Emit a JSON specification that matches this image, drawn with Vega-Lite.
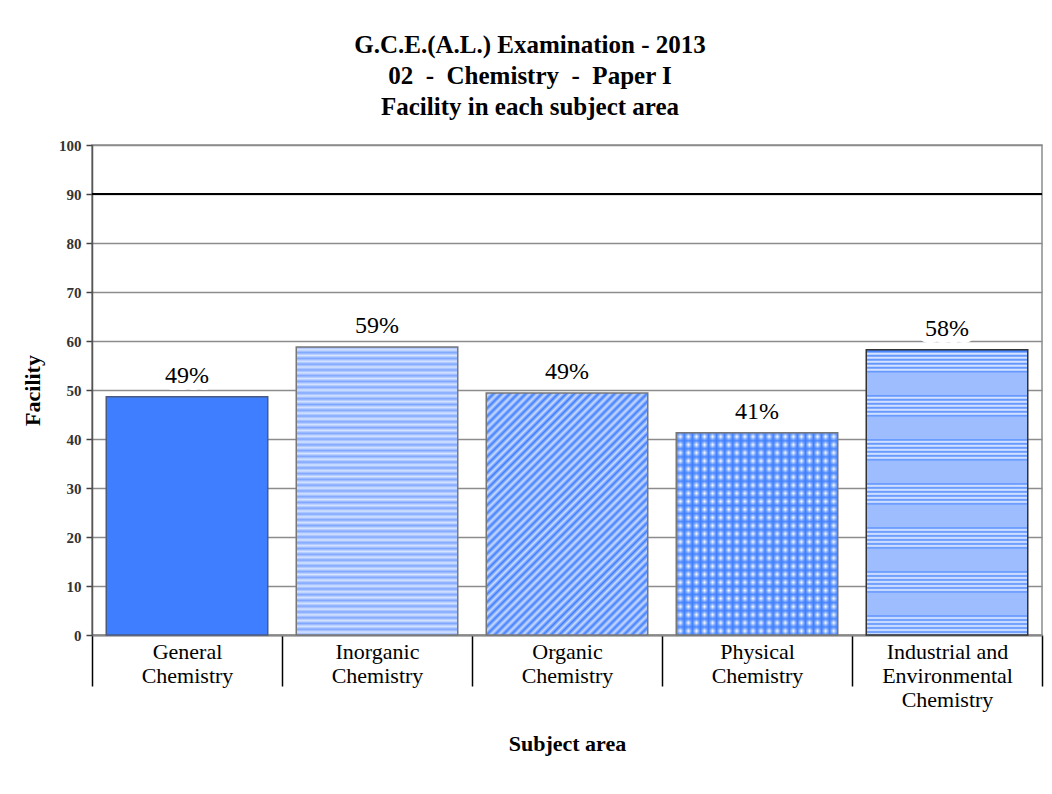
{
  "$schema": "https://vega.github.io/schema/vega-lite/v6.json",
  "width": 950,
  "height": 490,
  "autosize": {"type": "none"},
  "padding": {"left": 92, "top": 145, "right": 10, "bottom": 159},
  "background": "white",
  "config": {"view": {"stroke": "#8c8c8c", "strokeWidth": 1.5}, "font": "Liberation Serif", "mark": {"font": "Liberation Serif"}, "text": {"font": "Liberation Serif"}},
  "title": {
    "text": ["G.C.E.(A.L.) Examination - 2013", "02 \u00a0-\u00a0 Chemistry \u00a0-\u00a0 Paper I", "Facility in each subject area"],
    "font": "Liberation Serif", "fontSize": 25, "fontWeight": "bold", "color": "black",
    "lineHeight": 31, "anchor": "middle", "frame": "group", "dx": -37, "offset": 18
  },
  "data": {"values": [
    {"area": "General Chemistry", "facility": 48.6, "label": "49%"},
    {"area": "Inorganic Chemistry", "facility": 58.8, "label": "59%"},
    {"area": "Organic Chemistry", "facility": 49.4, "label": "49%"},
    {"area": "Physical Chemistry", "facility": 41.3, "label": "41%"},
    {"area": "Industrial and Environmental Chemistry", "facility": 58.2, "label": "58%"}
  ]},
  "layer": [
    {
      "encoding": {
        "x": {
          "field": "area", "type": "nominal",
          "sort": ["General Chemistry", "Inorganic Chemistry", "Organic Chemistry", "Physical Chemistry", "Industrial and Environmental Chemistry"],
          "scale": {"paddingInner": 0, "paddingOuter": 0},
          "axis": {
            "title": "Subject area", "titleFont": "Liberation Serif", "titleFontSize": 22, "titleFontWeight": "bold",
            "titleColor": "black", "titleY": 115, "titleBaseline": "alphabetic",
            "labelAngle": 0, "labelFont": "Liberation Serif", "labelFontSize": 22, "labelColor": "black",
            "labelLineHeight": 24, "labelBaseline": "top", "labelPadding": -45, "labelLimit": 0, "labelOverlap": false,
            "labelExpr": "!isValid(datum.value) ? '' : datum.value == 'Industrial and Environmental Chemistry' ? ['Industrial and', 'Environmental', 'Chemistry'] : split(datum.value, ' ')",
            "tickBand": "extent", "tickSize": 51, "tickColor": "black", "tickWidth": 1.5,
            "domainColor": "#888888", "domainWidth": 2, "grid": false
          }
        },
        "y": {
          "field": "facility", "type": "quantitative",
          "scale": {"domain": [0, 100], "nice": false},
          "axis": {
            "title": "Facility", "titleFont": "Liberation Serif", "titleFontSize": 22, "titleFontWeight": "bold",
            "titleColor": "black", "titlePadding": 14,
            "values": [0, 10, 20, 30, 40, 50, 60, 70, 80, 90, 100],
            "labelFont": "Liberation Serif", "labelFontWeight": "bold", "labelFontSize": 15, "labelColor": "#333333",
            "labelPadding": 5, "tickSize": 6, "tickColor": "#444444", "tickWidth": 1.5,
            "domainColor": "#555555", "domainWidth": 1.5, "gridColor": "#8c8c8c", "gridWidth": 1.5
          }
        }
      },
      "layer": [
        {
          "transform": [{"filter": "datum.area === 'General Chemistry'"}],
          "mark": {"type": "bar", "width": {"band": 0.85}, "fill": "#3f7fff", "stroke": "#4a5a80", "strokeWidth": 1.5}
        },
        {
          "transform": [{"filter": "datum.area === 'Inorganic Chemistry'"}],
          "mark": {"type": "bar", "width": {"band": 0.85}, "stroke": "#777777", "strokeWidth": 1.5, "fill": {"gradient": "linear", "x1": 0, "y1": 0, "x2": 0, "y2": 1, "stops": [
            {"offset": 0, "color": "#7fa6ff"}, {"offset": 0.01, "color": "#d6e4ff"}, {"offset": 0.02, "color": "#7fa6ff"}, {"offset": 0.03, "color": "#d6e4ff"}, {"offset": 0.04, "color": "#7fa6ff"}, {"offset": 0.05, "color": "#d6e4ff"}, {"offset": 0.06, "color": "#7fa6ff"}, {"offset": 0.07, "color": "#d6e4ff"}, {"offset": 0.08, "color": "#7fa6ff"}, {"offset": 0.09, "color": "#d6e4ff"},
            {"offset": 0.10, "color": "#7fa6ff"}, {"offset": 0.11, "color": "#d6e4ff"}, {"offset": 0.12, "color": "#7fa6ff"}, {"offset": 0.13, "color": "#d6e4ff"}, {"offset": 0.14, "color": "#7fa6ff"}, {"offset": 0.15, "color": "#d6e4ff"}, {"offset": 0.16, "color": "#7fa6ff"}, {"offset": 0.17, "color": "#d6e4ff"}, {"offset": 0.18, "color": "#7fa6ff"}, {"offset": 0.19, "color": "#d6e4ff"},
            {"offset": 0.20, "color": "#7fa6ff"}, {"offset": 0.21, "color": "#d6e4ff"}, {"offset": 0.22, "color": "#7fa6ff"}, {"offset": 0.23, "color": "#d6e4ff"}, {"offset": 0.24, "color": "#7fa6ff"}, {"offset": 0.25, "color": "#d6e4ff"}, {"offset": 0.26, "color": "#7fa6ff"}, {"offset": 0.27, "color": "#d6e4ff"}, {"offset": 0.28, "color": "#7fa6ff"}, {"offset": 0.29, "color": "#d6e4ff"},
            {"offset": 0.30, "color": "#7fa6ff"}, {"offset": 0.31, "color": "#d6e4ff"}, {"offset": 0.32, "color": "#7fa6ff"}, {"offset": 0.33, "color": "#d6e4ff"}, {"offset": 0.34, "color": "#7fa6ff"}, {"offset": 0.35, "color": "#d6e4ff"}, {"offset": 0.36, "color": "#7fa6ff"}, {"offset": 0.37, "color": "#d6e4ff"}, {"offset": 0.38, "color": "#7fa6ff"}, {"offset": 0.39, "color": "#d6e4ff"},
            {"offset": 0.40, "color": "#7fa6ff"}, {"offset": 0.41, "color": "#d6e4ff"}, {"offset": 0.42, "color": "#7fa6ff"}, {"offset": 0.43, "color": "#d6e4ff"}, {"offset": 0.44, "color": "#7fa6ff"}, {"offset": 0.45, "color": "#d6e4ff"}, {"offset": 0.46, "color": "#7fa6ff"}, {"offset": 0.47, "color": "#d6e4ff"}, {"offset": 0.48, "color": "#7fa6ff"}, {"offset": 0.49, "color": "#d6e4ff"},
            {"offset": 0.50, "color": "#7fa6ff"}, {"offset": 0.51, "color": "#d6e4ff"}, {"offset": 0.52, "color": "#7fa6ff"}, {"offset": 0.53, "color": "#d6e4ff"}, {"offset": 0.54, "color": "#7fa6ff"}, {"offset": 0.55, "color": "#d6e4ff"}, {"offset": 0.56, "color": "#7fa6ff"}, {"offset": 0.57, "color": "#d6e4ff"}, {"offset": 0.58, "color": "#7fa6ff"}, {"offset": 0.59, "color": "#d6e4ff"},
            {"offset": 0.60, "color": "#7fa6ff"}, {"offset": 0.61, "color": "#d6e4ff"}, {"offset": 0.62, "color": "#7fa6ff"}, {"offset": 0.63, "color": "#d6e4ff"}, {"offset": 0.64, "color": "#7fa6ff"}, {"offset": 0.65, "color": "#d6e4ff"}, {"offset": 0.66, "color": "#7fa6ff"}, {"offset": 0.67, "color": "#d6e4ff"}, {"offset": 0.68, "color": "#7fa6ff"}, {"offset": 0.69, "color": "#d6e4ff"},
            {"offset": 0.70, "color": "#7fa6ff"}, {"offset": 0.71, "color": "#d6e4ff"}, {"offset": 0.72, "color": "#7fa6ff"}, {"offset": 0.73, "color": "#d6e4ff"}, {"offset": 0.74, "color": "#7fa6ff"}, {"offset": 0.75, "color": "#d6e4ff"}, {"offset": 0.76, "color": "#7fa6ff"}, {"offset": 0.77, "color": "#d6e4ff"}, {"offset": 0.78, "color": "#7fa6ff"}, {"offset": 0.79, "color": "#d6e4ff"},
            {"offset": 0.80, "color": "#7fa6ff"}, {"offset": 0.81, "color": "#d6e4ff"}, {"offset": 0.82, "color": "#7fa6ff"}, {"offset": 0.83, "color": "#d6e4ff"}, {"offset": 0.84, "color": "#7fa6ff"}, {"offset": 0.85, "color": "#d6e4ff"}, {"offset": 0.86, "color": "#7fa6ff"}, {"offset": 0.87, "color": "#d6e4ff"}, {"offset": 0.88, "color": "#7fa6ff"}, {"offset": 0.89, "color": "#d6e4ff"},
            {"offset": 0.90, "color": "#7fa6ff"}, {"offset": 0.91, "color": "#d6e4ff"}, {"offset": 0.92, "color": "#7fa6ff"}, {"offset": 0.93, "color": "#d6e4ff"}, {"offset": 0.94, "color": "#7fa6ff"}, {"offset": 0.95, "color": "#d6e4ff"}, {"offset": 0.96, "color": "#7fa6ff"}, {"offset": 0.97, "color": "#d6e4ff"}, {"offset": 0.98, "color": "#7fa6ff"}, {"offset": 0.99, "color": "#d6e4ff"},
            {"offset": 1, "color": "#7fa6ff"}
          ]}}
        },
        {
          "transform": [{"filter": "datum.area === 'Organic Chemistry'"}],
          "mark": {"type": "bar", "width": {"band": 0.85}, "stroke": "#777777", "strokeWidth": 1.5, "fill": {"gradient": "linear", "x1": 0, "y1": 0, "x2": 0.77, "y2": 1.154, "stops": [
            {"offset": 0, "color": "#3f7fff"}, {"offset": 0.01, "color": "#cddcff"}, {"offset": 0.02, "color": "#3f7fff"}, {"offset": 0.03, "color": "#cddcff"}, {"offset": 0.04, "color": "#3f7fff"}, {"offset": 0.05, "color": "#cddcff"}, {"offset": 0.06, "color": "#3f7fff"}, {"offset": 0.07, "color": "#cddcff"}, {"offset": 0.08, "color": "#3f7fff"}, {"offset": 0.09, "color": "#cddcff"},
            {"offset": 0.10, "color": "#3f7fff"}, {"offset": 0.11, "color": "#cddcff"}, {"offset": 0.12, "color": "#3f7fff"}, {"offset": 0.13, "color": "#cddcff"}, {"offset": 0.14, "color": "#3f7fff"}, {"offset": 0.15, "color": "#cddcff"}, {"offset": 0.16, "color": "#3f7fff"}, {"offset": 0.17, "color": "#cddcff"}, {"offset": 0.18, "color": "#3f7fff"}, {"offset": 0.19, "color": "#cddcff"},
            {"offset": 0.20, "color": "#3f7fff"}, {"offset": 0.21, "color": "#cddcff"}, {"offset": 0.22, "color": "#3f7fff"}, {"offset": 0.23, "color": "#cddcff"}, {"offset": 0.24, "color": "#3f7fff"}, {"offset": 0.25, "color": "#cddcff"}, {"offset": 0.26, "color": "#3f7fff"}, {"offset": 0.27, "color": "#cddcff"}, {"offset": 0.28, "color": "#3f7fff"}, {"offset": 0.29, "color": "#cddcff"},
            {"offset": 0.30, "color": "#3f7fff"}, {"offset": 0.31, "color": "#cddcff"}, {"offset": 0.32, "color": "#3f7fff"}, {"offset": 0.33, "color": "#cddcff"}, {"offset": 0.34, "color": "#3f7fff"}, {"offset": 0.35, "color": "#cddcff"}, {"offset": 0.36, "color": "#3f7fff"}, {"offset": 0.37, "color": "#cddcff"}, {"offset": 0.38, "color": "#3f7fff"}, {"offset": 0.39, "color": "#cddcff"},
            {"offset": 0.40, "color": "#3f7fff"}, {"offset": 0.41, "color": "#cddcff"}, {"offset": 0.42, "color": "#3f7fff"}, {"offset": 0.43, "color": "#cddcff"}, {"offset": 0.44, "color": "#3f7fff"}, {"offset": 0.45, "color": "#cddcff"}, {"offset": 0.46, "color": "#3f7fff"}, {"offset": 0.47, "color": "#cddcff"}, {"offset": 0.48, "color": "#3f7fff"}, {"offset": 0.49, "color": "#cddcff"},
            {"offset": 0.50, "color": "#3f7fff"}, {"offset": 0.51, "color": "#cddcff"}, {"offset": 0.52, "color": "#3f7fff"}, {"offset": 0.53, "color": "#cddcff"}, {"offset": 0.54, "color": "#3f7fff"}, {"offset": 0.55, "color": "#cddcff"}, {"offset": 0.56, "color": "#3f7fff"}, {"offset": 0.57, "color": "#cddcff"}, {"offset": 0.58, "color": "#3f7fff"}, {"offset": 0.59, "color": "#cddcff"},
            {"offset": 0.60, "color": "#3f7fff"}, {"offset": 0.61, "color": "#cddcff"}, {"offset": 0.62, "color": "#3f7fff"}, {"offset": 0.63, "color": "#cddcff"}, {"offset": 0.64, "color": "#3f7fff"}, {"offset": 0.65, "color": "#cddcff"}, {"offset": 0.66, "color": "#3f7fff"}, {"offset": 0.67, "color": "#cddcff"}, {"offset": 0.68, "color": "#3f7fff"}, {"offset": 0.69, "color": "#cddcff"},
            {"offset": 0.70, "color": "#3f7fff"}, {"offset": 0.71, "color": "#cddcff"}, {"offset": 0.72, "color": "#3f7fff"}, {"offset": 0.73, "color": "#cddcff"}, {"offset": 0.74, "color": "#3f7fff"}, {"offset": 0.75, "color": "#cddcff"}, {"offset": 0.76, "color": "#3f7fff"}, {"offset": 0.77, "color": "#cddcff"}, {"offset": 0.78, "color": "#3f7fff"}, {"offset": 0.79, "color": "#cddcff"},
            {"offset": 0.80, "color": "#3f7fff"}, {"offset": 0.81, "color": "#cddcff"}, {"offset": 0.82, "color": "#3f7fff"}, {"offset": 0.83, "color": "#cddcff"}, {"offset": 0.84, "color": "#3f7fff"}, {"offset": 0.85, "color": "#cddcff"}, {"offset": 0.86, "color": "#3f7fff"}, {"offset": 0.87, "color": "#cddcff"}, {"offset": 0.88, "color": "#3f7fff"}, {"offset": 0.89, "color": "#cddcff"},
            {"offset": 0.90, "color": "#3f7fff"}, {"offset": 0.91, "color": "#cddcff"}, {"offset": 0.92, "color": "#3f7fff"}, {"offset": 0.93, "color": "#cddcff"}, {"offset": 0.94, "color": "#3f7fff"}, {"offset": 0.95, "color": "#cddcff"}, {"offset": 0.96, "color": "#3f7fff"}, {"offset": 0.97, "color": "#cddcff"}, {"offset": 0.98, "color": "#3f7fff"}, {"offset": 0.99, "color": "#cddcff"},
            {"offset": 1, "color": "#3f7fff"}
          ]}}
        },
        {
          "transform": [{"filter": "datum.area === 'Physical Chemistry'"}],
          "mark": {"type": "bar", "width": {"band": 0.85}, "fill": {"gradient": "linear", "x1": 0, "y1": 0, "x2": 1, "y2": 0, "stops": [
            {"offset": 0, "color": "#3f7fff"}, {"offset": 0.025, "color": "#ffffff"}, {"offset": 0.05, "color": "#3f7fff"}, {"offset": 0.075, "color": "#ffffff"}, {"offset": 0.1, "color": "#3f7fff"}, {"offset": 0.125, "color": "#ffffff"}, {"offset": 0.15, "color": "#3f7fff"}, {"offset": 0.175, "color": "#ffffff"},
            {"offset": 0.2, "color": "#3f7fff"}, {"offset": 0.225, "color": "#ffffff"}, {"offset": 0.25, "color": "#3f7fff"}, {"offset": 0.275, "color": "#ffffff"}, {"offset": 0.3, "color": "#3f7fff"}, {"offset": 0.325, "color": "#ffffff"}, {"offset": 0.35, "color": "#3f7fff"}, {"offset": 0.375, "color": "#ffffff"},
            {"offset": 0.4, "color": "#3f7fff"}, {"offset": 0.425, "color": "#ffffff"}, {"offset": 0.45, "color": "#3f7fff"}, {"offset": 0.475, "color": "#ffffff"}, {"offset": 0.5, "color": "#3f7fff"}, {"offset": 0.525, "color": "#ffffff"}, {"offset": 0.55, "color": "#3f7fff"}, {"offset": 0.575, "color": "#ffffff"},
            {"offset": 0.6, "color": "#3f7fff"}, {"offset": 0.625, "color": "#ffffff"}, {"offset": 0.65, "color": "#3f7fff"}, {"offset": 0.675, "color": "#ffffff"}, {"offset": 0.7, "color": "#3f7fff"}, {"offset": 0.725, "color": "#ffffff"}, {"offset": 0.75, "color": "#3f7fff"}, {"offset": 0.775, "color": "#ffffff"},
            {"offset": 0.8, "color": "#3f7fff"}, {"offset": 0.825, "color": "#ffffff"}, {"offset": 0.85, "color": "#3f7fff"}, {"offset": 0.875, "color": "#ffffff"}, {"offset": 0.9, "color": "#3f7fff"}, {"offset": 0.925, "color": "#ffffff"}, {"offset": 0.95, "color": "#3f7fff"}, {"offset": 0.975, "color": "#ffffff"},
            {"offset": 1, "color": "#3f7fff"}
          ]}}
        },
        {
          "transform": [{"filter": "datum.area === 'Physical Chemistry'"}],
          "mark": {"type": "bar", "width": {"band": 0.85}, "stroke": "#777777", "strokeWidth": 1.5, "fill": {"gradient": "linear", "x1": 0, "y1": 0, "x2": 0, "y2": 1, "stops": [
            {"offset": 0, "color": "rgba(63,127,255,0.9)"}, {"offset": 0.02, "color": "rgba(63,127,255,0)"}, {"offset": 0.04, "color": "rgba(63,127,255,0.9)"}, {"offset": 0.06, "color": "rgba(63,127,255,0)"}, {"offset": 0.08, "color": "rgba(63,127,255,0.9)"},
            {"offset": 0.1, "color": "rgba(63,127,255,0)"}, {"offset": 0.12, "color": "rgba(63,127,255,0.9)"}, {"offset": 0.14, "color": "rgba(63,127,255,0)"}, {"offset": 0.16, "color": "rgba(63,127,255,0.9)"}, {"offset": 0.18, "color": "rgba(63,127,255,0)"},
            {"offset": 0.2, "color": "rgba(63,127,255,0.9)"}, {"offset": 0.22, "color": "rgba(63,127,255,0)"}, {"offset": 0.24, "color": "rgba(63,127,255,0.9)"}, {"offset": 0.26, "color": "rgba(63,127,255,0)"}, {"offset": 0.28, "color": "rgba(63,127,255,0.9)"},
            {"offset": 0.3, "color": "rgba(63,127,255,0)"}, {"offset": 0.32, "color": "rgba(63,127,255,0.9)"}, {"offset": 0.34, "color": "rgba(63,127,255,0)"}, {"offset": 0.36, "color": "rgba(63,127,255,0.9)"}, {"offset": 0.38, "color": "rgba(63,127,255,0)"},
            {"offset": 0.4, "color": "rgba(63,127,255,0.9)"}, {"offset": 0.42, "color": "rgba(63,127,255,0)"}, {"offset": 0.44, "color": "rgba(63,127,255,0.9)"}, {"offset": 0.46, "color": "rgba(63,127,255,0)"}, {"offset": 0.48, "color": "rgba(63,127,255,0.9)"},
            {"offset": 0.5, "color": "rgba(63,127,255,0)"}, {"offset": 0.52, "color": "rgba(63,127,255,0.9)"}, {"offset": 0.54, "color": "rgba(63,127,255,0)"}, {"offset": 0.56, "color": "rgba(63,127,255,0.9)"}, {"offset": 0.58, "color": "rgba(63,127,255,0)"},
            {"offset": 0.6, "color": "rgba(63,127,255,0.9)"}, {"offset": 0.62, "color": "rgba(63,127,255,0)"}, {"offset": 0.64, "color": "rgba(63,127,255,0.9)"}, {"offset": 0.66, "color": "rgba(63,127,255,0)"}, {"offset": 0.68, "color": "rgba(63,127,255,0.9)"},
            {"offset": 0.7, "color": "rgba(63,127,255,0)"}, {"offset": 0.72, "color": "rgba(63,127,255,0.9)"}, {"offset": 0.74, "color": "rgba(63,127,255,0)"}, {"offset": 0.76, "color": "rgba(63,127,255,0.9)"}, {"offset": 0.78, "color": "rgba(63,127,255,0)"},
            {"offset": 0.8, "color": "rgba(63,127,255,0.9)"}, {"offset": 0.82, "color": "rgba(63,127,255,0)"}, {"offset": 0.84, "color": "rgba(63,127,255,0.9)"}, {"offset": 0.86, "color": "rgba(63,127,255,0)"}, {"offset": 0.88, "color": "rgba(63,127,255,0.9)"},
            {"offset": 0.9, "color": "rgba(63,127,255,0)"}, {"offset": 0.92, "color": "rgba(63,127,255,0.9)"}, {"offset": 0.94, "color": "rgba(63,127,255,0)"}, {"offset": 0.96, "color": "rgba(63,127,255,0.9)"}, {"offset": 0.98, "color": "rgba(63,127,255,0)"},
            {"offset": 1, "color": "rgba(63,127,255,0.9)"}
          ]}}
        },
        {
          "transform": [{"filter": "datum.area === 'Industrial and Environmental Chemistry'"}],
          "mark": {"type": "bar", "width": {"band": 0.85}, "stroke": "#333333", "strokeWidth": 1.5, "fill": {"gradient": "linear", "x1": 0, "y1": 0, "x2": 0, "y2": 1, "stops": [
            {"offset": 0, "color": "#4a86ff"},
            {"offset": 0.0070, "color": "#4a86ff"}, {"offset": 0.0140, "color": "#f0f5ff"}, {"offset": 0.0211, "color": "#4a86ff"}, {"offset": 0.0281, "color": "#f0f5ff"}, {"offset": 0.0351, "color": "#4a86ff"}, {"offset": 0.0421, "color": "#f0f5ff"}, {"offset": 0.0491, "color": "#4a86ff"}, {"offset": 0.0561, "color": "#f0f5ff"}, {"offset": 0.0632, "color": "#4a86ff"}, {"offset": 0.0702, "color": "#f0f5ff"}, {"offset": 0.0772, "color": "#4a86ff"}, {"offset": 0.0807, "color": "#9dbdff"}, {"offset": 0.1579, "color": "#9dbdff"},
            {"offset": 0.1614, "color": "#4a86ff"}, {"offset": 0.1684, "color": "#f0f5ff"}, {"offset": 0.1754, "color": "#4a86ff"}, {"offset": 0.1825, "color": "#f0f5ff"}, {"offset": 0.1895, "color": "#4a86ff"}, {"offset": 0.1965, "color": "#f0f5ff"}, {"offset": 0.2035, "color": "#4a86ff"}, {"offset": 0.2105, "color": "#f0f5ff"}, {"offset": 0.2175, "color": "#4a86ff"}, {"offset": 0.2246, "color": "#f0f5ff"}, {"offset": 0.2316, "color": "#4a86ff"}, {"offset": 0.2351, "color": "#9dbdff"}, {"offset": 0.3123, "color": "#9dbdff"},
            {"offset": 0.3158, "color": "#4a86ff"}, {"offset": 0.3228, "color": "#f0f5ff"}, {"offset": 0.3298, "color": "#4a86ff"}, {"offset": 0.3368, "color": "#f0f5ff"}, {"offset": 0.3439, "color": "#4a86ff"}, {"offset": 0.3509, "color": "#f0f5ff"}, {"offset": 0.3579, "color": "#4a86ff"}, {"offset": 0.3649, "color": "#f0f5ff"}, {"offset": 0.3719, "color": "#4a86ff"}, {"offset": 0.3789, "color": "#f0f5ff"}, {"offset": 0.3860, "color": "#4a86ff"}, {"offset": 0.3895, "color": "#9dbdff"}, {"offset": 0.4667, "color": "#9dbdff"},
            {"offset": 0.4702, "color": "#4a86ff"}, {"offset": 0.4772, "color": "#f0f5ff"}, {"offset": 0.4842, "color": "#4a86ff"}, {"offset": 0.4912, "color": "#f0f5ff"}, {"offset": 0.4982, "color": "#4a86ff"}, {"offset": 0.5053, "color": "#f0f5ff"}, {"offset": 0.5123, "color": "#4a86ff"}, {"offset": 0.5193, "color": "#f0f5ff"}, {"offset": 0.5263, "color": "#4a86ff"}, {"offset": 0.5333, "color": "#f0f5ff"}, {"offset": 0.5404, "color": "#4a86ff"}, {"offset": 0.5439, "color": "#9dbdff"}, {"offset": 0.6211, "color": "#9dbdff"},
            {"offset": 0.6246, "color": "#4a86ff"}, {"offset": 0.6316, "color": "#f0f5ff"}, {"offset": 0.6386, "color": "#4a86ff"}, {"offset": 0.6456, "color": "#f0f5ff"}, {"offset": 0.6526, "color": "#4a86ff"}, {"offset": 0.6596, "color": "#f0f5ff"}, {"offset": 0.6667, "color": "#4a86ff"}, {"offset": 0.6737, "color": "#f0f5ff"}, {"offset": 0.6807, "color": "#4a86ff"}, {"offset": 0.6877, "color": "#f0f5ff"}, {"offset": 0.6947, "color": "#4a86ff"}, {"offset": 0.6982, "color": "#9dbdff"}, {"offset": 0.7754, "color": "#9dbdff"},
            {"offset": 0.7789, "color": "#4a86ff"}, {"offset": 0.7860, "color": "#f0f5ff"}, {"offset": 0.7930, "color": "#4a86ff"}, {"offset": 0.8000, "color": "#f0f5ff"}, {"offset": 0.8070, "color": "#4a86ff"}, {"offset": 0.8140, "color": "#f0f5ff"}, {"offset": 0.8211, "color": "#4a86ff"}, {"offset": 0.8281, "color": "#f0f5ff"}, {"offset": 0.8351, "color": "#4a86ff"}, {"offset": 0.8421, "color": "#f0f5ff"}, {"offset": 0.8491, "color": "#4a86ff"}, {"offset": 0.8526, "color": "#9dbdff"}, {"offset": 0.9298, "color": "#9dbdff"},
            {"offset": 0.9333, "color": "#4a86ff"}, {"offset": 0.9404, "color": "#f0f5ff"}, {"offset": 0.9474, "color": "#4a86ff"}, {"offset": 0.9544, "color": "#f0f5ff"}, {"offset": 0.9614, "color": "#4a86ff"}, {"offset": 0.9684, "color": "#f0f5ff"}, {"offset": 0.9754, "color": "#4a86ff"}, {"offset": 0.9825, "color": "#f0f5ff"}, {"offset": 0.9895, "color": "#4a86ff"}, {"offset": 0.9965, "color": "#f0f5ff"}, {"offset": 1, "color": "#4a86ff"}
          ]}}
        },
        {
          "mark": {"type": "text", "baseline": "alphabetic", "dy": -14, "fontSize": 24, "font": "Times New Roman", "fill": "white", "stroke": "white", "strokeWidth": 14, "strokeJoin": "round"},
          "encoding": {"text": {"field": "label"}}
        },
        {
          "mark": {"type": "text", "baseline": "alphabetic", "dy": -14, "fontSize": 24, "font": "Times New Roman", "color": "black"},
          "encoding": {"text": {"field": "label"}}
        }
      ]
    },
    {
      "data": {"values": [{"line": "upper"}]},
      "mark": {"type": "rule", "color": "black", "strokeWidth": 2},
      "encoding": {"y": {"datum": 90, "type": "quantitative", "title": "Facility"}}
    }
  ]
}
